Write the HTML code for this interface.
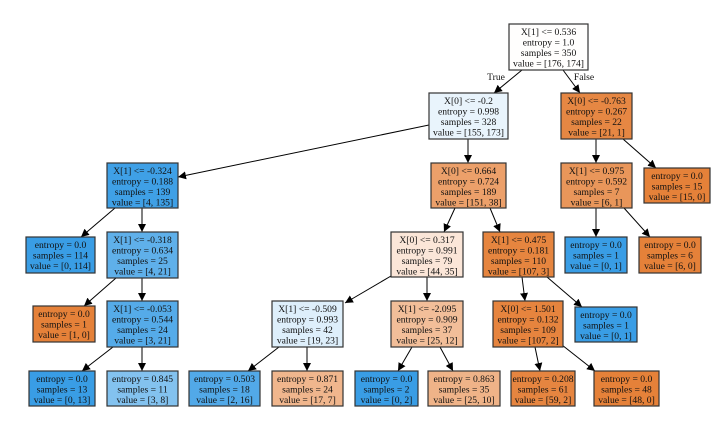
<!DOCTYPE html>
<html><head><meta charset="utf-8"><style>
html,body{margin:0;padding:0;background:#fff;width:728px;height:426px;overflow:hidden}
svg text{font-family:"Liberation Serif",serif;font-size:9.6px;fill:#111}
rect{stroke:#333;stroke-width:1.2}
line{stroke:#000;stroke-width:1}
</style></head><body>
<svg width="728" height="426" viewBox="0 0 728 426" xmlns="http://www.w3.org/2000/svg">
<defs><marker id="a" viewBox="0 0 10 10" refX="10" refY="5" markerWidth="8" markerHeight="8" orient="auto" markerUnits="userSpaceOnUse"><path d="M0,0 L10,5 L0,10 z" fill="#000"/></marker></defs>
<g marker-end="url(#a)">
<line x1="522" y1="70" x2="494" y2="93"/>
<line x1="563" y1="70" x2="580" y2="93"/>
<line x1="429" y1="125" x2="178" y2="177"/>
<line x1="468" y1="139" x2="468" y2="163"/>
<line x1="596" y1="139" x2="596" y2="163"/>
<line x1="623" y1="139" x2="656" y2="168"/>
<line x1="115" y1="208" x2="81" y2="237"/>
<line x1="142" y1="208" x2="142" y2="232"/>
<line x1="116" y1="278" x2="84" y2="306"/>
<line x1="142" y1="278" x2="142" y2="301"/>
<line x1="113" y1="347" x2="82" y2="371"/>
<line x1="142" y1="347" x2="142" y2="371"/>
<line x1="455" y1="208" x2="444" y2="232"/>
<line x1="490" y1="208" x2="500" y2="232"/>
<line x1="596" y1="208" x2="596" y2="237"/>
<line x1="624" y1="208" x2="650" y2="237"/>
<line x1="391" y1="276" x2="345" y2="303"/>
<line x1="427" y1="277" x2="427" y2="301"/>
<line x1="522" y1="277" x2="525" y2="301"/>
<line x1="547" y1="277" x2="582" y2="307"/>
<line x1="279" y1="347" x2="248" y2="371"/>
<line x1="307" y1="347" x2="307" y2="371"/>
<line x1="412" y1="347" x2="398" y2="371"/>
<line x1="440" y1="347" x2="453" y2="371"/>
<line x1="535" y1="347" x2="540" y2="371"/>
<line x1="562" y1="345" x2="595" y2="371"/>
</g>
<text x="496" y="80" text-anchor="middle">True</text>
<text x="584" y="80" text-anchor="middle">False</text>
<g text-anchor="middle">
<!-- decision nodes -->
<rect x="509" y="24" width="79" height="46" fill="#fffefd"/>
<text x="548.5" y="35">X[1] &lt;= 0.536</text><text x="548.5" y="45.5">entropy = 1.0</text><text x="548.5" y="56">samples = 350</text><text x="548.5" y="66.5">value = [176, 174]</text>

<rect x="429" y="93" width="79" height="46" fill="#e9f4fc"/>
<text x="468.5" y="104">X[0] &lt;= -0.2</text><text x="468.5" y="114.5">entropy = 0.998</text><text x="468.5" y="125">samples = 328</text><text x="468.5" y="135.5">value = [155, 173]</text>

<rect x="561" y="93" width="71" height="46" fill="#e68743"/>
<text x="596.5" y="104">X[0] &lt;= -0.763</text><text x="596.5" y="114.5">entropy = 0.267</text><text x="596.5" y="125">samples = 22</text><text x="596.5" y="135.5">value = [21, 1]</text>

<rect x="431" y="163" width="75" height="45" fill="#eca06a"/>
<text x="468.5" y="174">X[0] &lt;= 0.664</text><text x="468.5" y="184.5">entropy = 0.724</text><text x="468.5" y="195">samples = 189</text><text x="468.5" y="205.5">value = [151, 38]</text>

<rect x="561" y="163" width="71" height="45" fill="#e9965a"/>
<text x="596.5" y="174">X[1] &lt;= 0.975</text><text x="596.5" y="184.5">entropy = 0.592</text><text x="596.5" y="195">samples = 7</text><text x="596.5" y="205.5">value = [6, 1]</text>

<rect x="644" y="168" width="66" height="35" fill="#e58139"/>
<text x="677" y="179">entropy = 0.0</text><text x="677" y="189.5">samples = 15</text><text x="677" y="200">value = [15, 0]</text>

<rect x="107" y="163" width="71" height="45" fill="#3fa0e6"/>
<text x="142.5" y="174">X[1] &lt;= -0.324</text><text x="142.5" y="184.5">entropy = 0.188</text><text x="142.5" y="195">samples = 139</text><text x="142.5" y="205.5">value = [4, 135]</text>

<rect x="26" y="237" width="69" height="36" fill="#399de5"/>
<text x="60.5" y="248">entropy = 0.0</text><text x="60.5" y="258.5">samples = 114</text><text x="60.5" y="269">value = [0, 114]</text>

<rect x="107" y="232" width="71" height="46" fill="#5fb0ea"/>
<text x="142.5" y="243">X[1] &lt;= -0.318</text><text x="142.5" y="253.5">entropy = 0.634</text><text x="142.5" y="264">samples = 25</text><text x="142.5" y="274.5">value = [4, 21]</text>

<rect x="33" y="306" width="62" height="36" fill="#e58139"/>
<text x="64" y="317">entropy = 0.0</text><text x="64" y="327.5">samples = 1</text><text x="64" y="338">value = [1, 0]</text>

<rect x="107" y="301" width="71" height="46" fill="#55abe9"/>
<text x="142.5" y="312">X[1] &lt;= -0.053</text><text x="142.5" y="322.5">entropy = 0.544</text><text x="142.5" y="333">samples = 24</text><text x="142.5" y="343.5">value = [3, 21]</text>

<rect x="29" y="371" width="66" height="35" fill="#399de5"/>
<text x="62" y="382">entropy = 0.0</text><text x="62" y="392.5">samples = 13</text><text x="62" y="403">value = [0, 13]</text>

<rect x="107" y="371" width="71" height="35" fill="#83c2ef"/>
<text x="142.5" y="382">entropy = 0.845</text><text x="142.5" y="392.5">samples = 11</text><text x="142.5" y="403">value = [3, 8]</text>

<rect x="272" y="301" width="71" height="46" fill="#deeffb"/>
<text x="307.5" y="312">X[1] &lt;= -0.509</text><text x="307.5" y="322.5">entropy = 0.993</text><text x="307.5" y="333">samples = 42</text><text x="307.5" y="343.5">value = [19, 23]</text>

<rect x="189" y="371" width="71" height="35" fill="#52a9e8"/>
<text x="224.5" y="382">entropy = 0.503</text><text x="224.5" y="392.5">samples = 18</text><text x="224.5" y="403">value = [2, 16]</text>

<rect x="272" y="371" width="71" height="35" fill="#f0b68d"/>
<text x="307.5" y="382">entropy = 0.871</text><text x="307.5" y="392.5">samples = 24</text><text x="307.5" y="403">value = [17, 7]</text>

<rect x="391" y="232" width="72" height="45" fill="#fbe6d8"/>
<text x="427" y="243">X[0] &lt;= 0.317</text><text x="427" y="253.5">entropy = 0.991</text><text x="427" y="264">samples = 79</text><text x="427" y="274.5">value = [44, 35]</text>

<rect x="483" y="232" width="71" height="45" fill="#e6853f"/>
<text x="518.5" y="243">X[1] &lt;= 0.475</text><text x="518.5" y="253.5">entropy = 0.181</text><text x="518.5" y="264">samples = 110</text><text x="518.5" y="274.5">value = [107, 3]</text>

<rect x="565" y="237" width="62" height="36" fill="#399de5"/>
<text x="596" y="248">entropy = 0.0</text><text x="596" y="258.5">samples = 1</text><text x="596" y="269">value = [0, 1]</text>

<rect x="639" y="237" width="62" height="36" fill="#e58139"/>
<text x="670" y="248">entropy = 0.0</text><text x="670" y="258.5">samples = 6</text><text x="670" y="269">value = [6, 0]</text>

<rect x="391" y="301" width="72" height="46" fill="#f2be99"/>
<text x="427" y="312">X[1] &lt;= -2.095</text><text x="427" y="322.5">entropy = 0.909</text><text x="427" y="333">samples = 37</text><text x="427" y="343.5">value = [25, 12]</text>

<rect x="493" y="301" width="70" height="46" fill="#e6843e"/>
<text x="528" y="312">X[0] &lt;= 1.501</text><text x="528" y="322.5">entropy = 0.132</text><text x="528" y="333">samples = 109</text><text x="528" y="343.5">value = [107, 2]</text>

<rect x="575" y="307" width="62" height="35" fill="#399de5"/>
<text x="606" y="318">entropy = 0.0</text><text x="606" y="328.5">samples = 1</text><text x="606" y="339">value = [0, 1]</text>

<rect x="355" y="371" width="63" height="35" fill="#399de5"/>
<text x="386.5" y="382">entropy = 0.0</text><text x="386.5" y="392.5">samples = 2</text><text x="386.5" y="403">value = [0, 2]</text>

<rect x="428" y="371" width="72" height="35" fill="#efb388"/>
<text x="464" y="382">entropy = 0.863</text><text x="464" y="392.5">samples = 35</text><text x="464" y="403">value = [25, 10]</text>

<rect x="511" y="371" width="64" height="35" fill="#e68540"/>
<text x="543" y="382">entropy = 0.208</text><text x="543" y="392.5">samples = 61</text><text x="543" y="403">value = [59, 2]</text>

<rect x="594" y="371" width="65" height="35" fill="#e58139"/>
<text x="626.5" y="382">entropy = 0.0</text><text x="626.5" y="392.5">samples = 48</text><text x="626.5" y="403">value = [48, 0]</text>
</g>
</svg>
</body></html>
